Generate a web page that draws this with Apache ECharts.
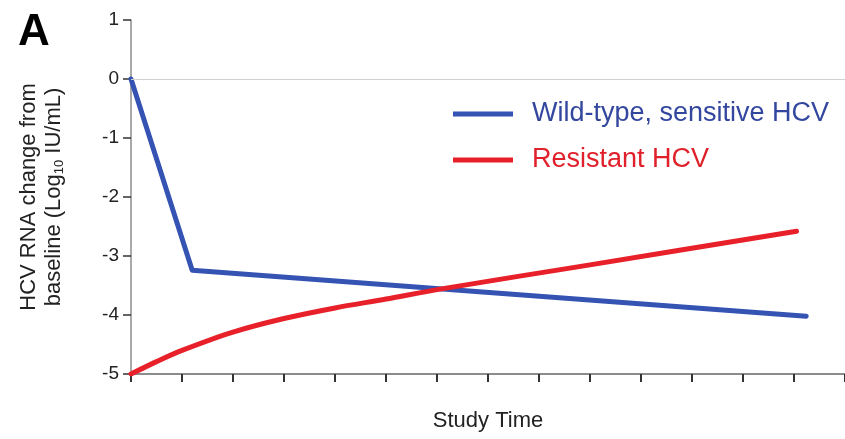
<!DOCTYPE html>
<html>
<head>
<meta charset="utf-8">
<script src="https://cdn.jsdelivr.net/npm/echarts@6/dist/echarts.min.js"></script>
<style>
html,body{margin:0;padding:0;background:#fff;}
#c{width:845px;height:439px;}
</style>
</head>
<body>
<div id="c"></div>
<script>
// Data (x = study time units, y = log10 change)
const wildTypeX = [0, 1.2, 13.24];
const wildTypeY = [0, -3.24, -4.02];
const resistantX = [0, 0.5, 1, 2, 3, 4, 5, 6, 9, 13.05];
const resistantY = [-5, -4.79, -4.6, -4.29, -4.06, -3.88, -3.73, -3.57, -3.15, -2.58];
const seriesNames = ['Wild-type, sensitive HCV', 'Resistant HCV'];
const yTicks = [-5, -4, -3, -2, -1, 0, 1];

const FONT = "'Liberation Sans', Arial, Helvetica, sans-serif";
const BLUE = '#3553b3';
const RED = '#e8202a';

const chart = echarts.init(document.getElementById('c'), null, {renderer: 'canvas'});
chart.setOption({
  animation: false,
  backgroundColor: '#ffffff',
  textStyle: {fontFamily: FONT},
  title: {
    text: 'A', left: 18, top: 11, padding: 0,
    textStyle: {fontFamily: FONT, fontSize: 44, fontWeight: 'bold', color: '#000'}
  },
  legend: {
    orient: 'vertical',
    left: 453, top: 99, padding: 0,
    itemWidth: 60, itemHeight: 5,
    itemGap: 16,
    icon: 'rect',
    data: [
      {name: seriesNames[0], textStyle: {color: '#33479e'}},
      {name: seriesNames[1], textStyle: {color: '#e0202a'}}
    ],
    textStyle: {fontFamily: FONT, fontSize: 27, lineHeight: 30, padding: [0, 0, 0, 14]}
  },
  grid: {left: 131, right: -2, top: 20, bottom: 65, containLabel: false},
  xAxis: {
    type: 'value', min: 0, max: 14, interval: 1,
    name: 'Study Time', nameLocation: 'middle', nameGap: 36,
    nameTextStyle: {fontFamily: FONT, fontSize: 22, color: '#222'},
    axisLine: {show: true, onZero: false, lineStyle: {color: '#8c8c8c', width: 2}},
    axisTick: {show: true, length: 8, lineStyle: {color: '#333', width: 2}},
    axisLabel: {show: false},
    splitLine: {show: false}
  },
  yAxis: {
    type: 'value', min: yTicks[0], max: yTicks[yTicks.length - 1], interval: 1,
    name: 'HCV RNA change from\nbaseline (Log{sub|10} IU/mL)',
    nameLocation: 'middle', nameRotate: 90, nameGap: 65,
    nameTextStyle: {
      fontFamily: FONT, fontSize: 22, color: '#222', lineHeight: 25,
      rich: {sub: {fontFamily: FONT, fontSize: 13, color: '#222', verticalAlign: 'bottom', lineHeight: 25}}
    },
    axisLine: {show: true, lineStyle: {color: '#8c8c8c', width: 1.5}},
    axisTick: {show: true, length: 8, lineStyle: {color: '#333', width: 1.5}},
    axisLabel: {margin: 12, fontFamily: FONT, fontSize: 19, color: '#222'},
    splitLine: {show: false}
  },
  series: [
    {
      name: seriesNames[0], type: 'line',
      data: wildTypeX.map((x, i) => [x, wildTypeY[i]]),
      showSymbol: false, symbol: 'none',
      lineStyle: {color: BLUE, width: 5, cap: 'round', join: 'round'},
      itemStyle: {color: BLUE},
      z: 3,
      markLine: {
        silent: true, symbol: 'none', label: {show: false},
        lineStyle: {color: '#d0d0d0', width: 1, type: 'solid'},
        data: [{yAxis: 0}]
      }
    },
    {
      name: seriesNames[1], type: 'line',
      data: resistantX.map((x, i) => [x, resistantY[i]]),
      showSymbol: false, symbol: 'none', smooth: 0.3,
      lineStyle: {color: RED, width: 5, cap: 'round', join: 'round'},
      itemStyle: {color: RED},
      z: 4
    }
  ]
});
</script>
</body>
</html>
